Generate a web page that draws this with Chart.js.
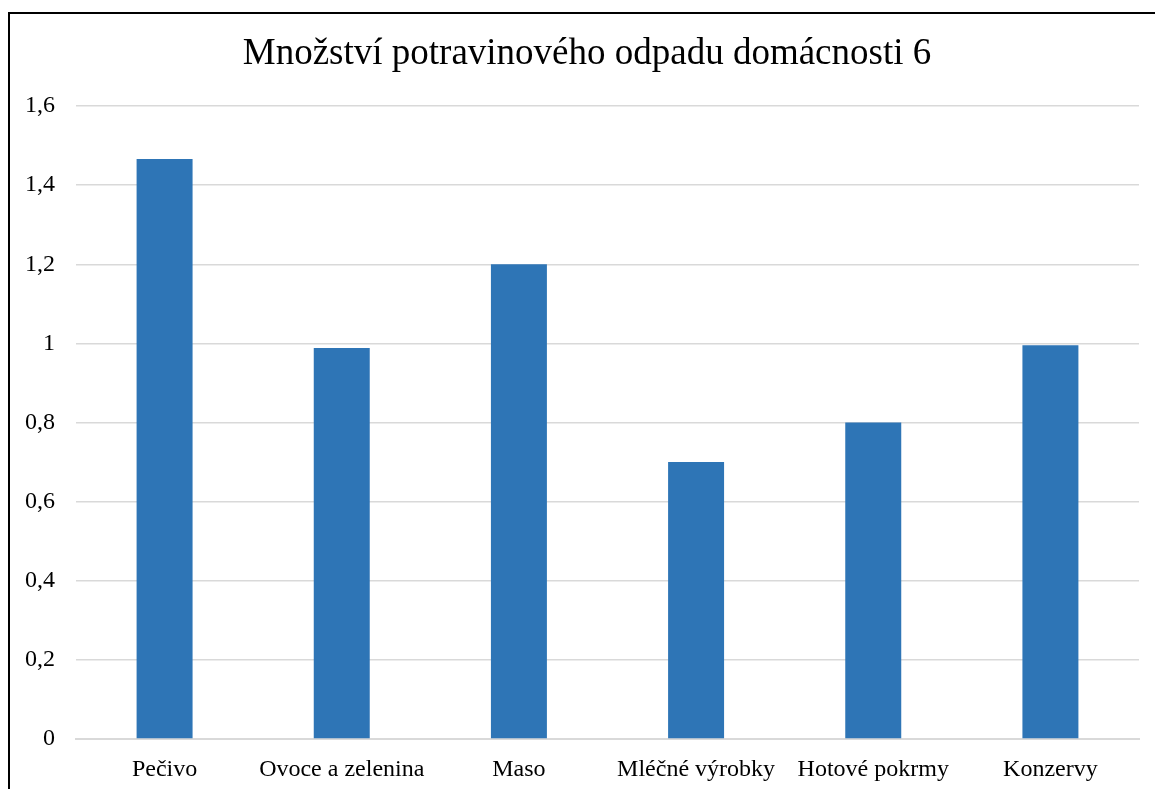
<!DOCTYPE html>
<html>
<head>
<meta charset="utf-8">
<script src="https://cdn.jsdelivr.net/npm/chart.js@4.4.1/dist/chart.umd.min.js"></script>
<style>
  html, body { margin: 0; padding: 0; background: #fff; overflow: hidden; }
  #wrap { position: relative; width: 1155px; height: 789px; }
  #chart { position: absolute; left: 0; top: 0; }
  #frame { position: absolute; left: 8px; top: 12px; width: 1160px; height: 800px;
           border: 2px solid #000; box-sizing: border-box; pointer-events: none; }
</style>
</head>
<body>
<div id="wrap">
  <canvas id="chart" width="1155" height="789"></canvas>
  <div id="frame"></div>
</div>
<script>
// data
const categories = ['Pečivo', 'Ovoce a zelenina', 'Maso', 'Mléčné výrobky', 'Hotové pokrmy', 'Konzervy'];
const values = [1.466, 0.988, 1.2, 0.7, 0.8, 0.995];
const yTicks = [0, 0.2, 0.4, 0.6, 0.8, 1, 1.2, 1.4, 1.6];
const chartTitle = 'Množství potravinového odpadu domácnosti 6';

const serif = "'Liberation Serif', 'Times New Roman', serif";

// title is drawn by hand so it can be centred on the whole frame
const titlePlugin = {
  id: 'frameTitle',
  afterDraw(chart) {
    const ctx = chart.ctx;
    ctx.save();
    ctx.font = `37px ${serif}`;
    ctx.fillStyle = '#000';
    ctx.textAlign = 'center';
    ctx.textBaseline = 'middle';
    ctx.fillText(chartTitle, 587, 54);
    ctx.restore();
  }
};

new Chart(document.getElementById('chart'), {
  type: 'bar',
  data: {
    labels: categories,
    datasets: [{
      data: values,
      backgroundColor: '#2E75B6',
      categoryPercentage: 1,
      barPercentage: 0.316
    }]
  },
  options: {
    responsive: false,
    animation: false,
    layout: { padding: { left: 4, right: 16, top: 106, bottom: 0 } },
    plugins: {
      legend: { display: false },
      tooltip: { enabled: false },
      title: { display: false }
    },
    scales: {
      x: {
        grid: { display: false },
        border: { display: true, color: '#d9d9d9', width: 2 },
        afterFit: axis => { axis.height = 50; },
        ticks: { color: '#000', font: { family: serif, size: 24 }, padding: 8, maxRotation: 0, autoSkip: false }
      },
      y: {
        min: 0,
        max: 1.6,
        afterBuildTicks: axis => { axis.ticks = yTicks.map(v => ({ value: v })); },
        grid: { color: '#d9d9d9', lineWidth: 1.5, drawTicks: false },
        border: { display: false },
        ticks: {
          color: '#000',
          font: { family: serif, size: 24 },
          padding: 21,
          callback: v => String(v).replace('.', ',')
        }
      }
    }
  },
  plugins: [titlePlugin]
});
</script>
</body>
</html>
